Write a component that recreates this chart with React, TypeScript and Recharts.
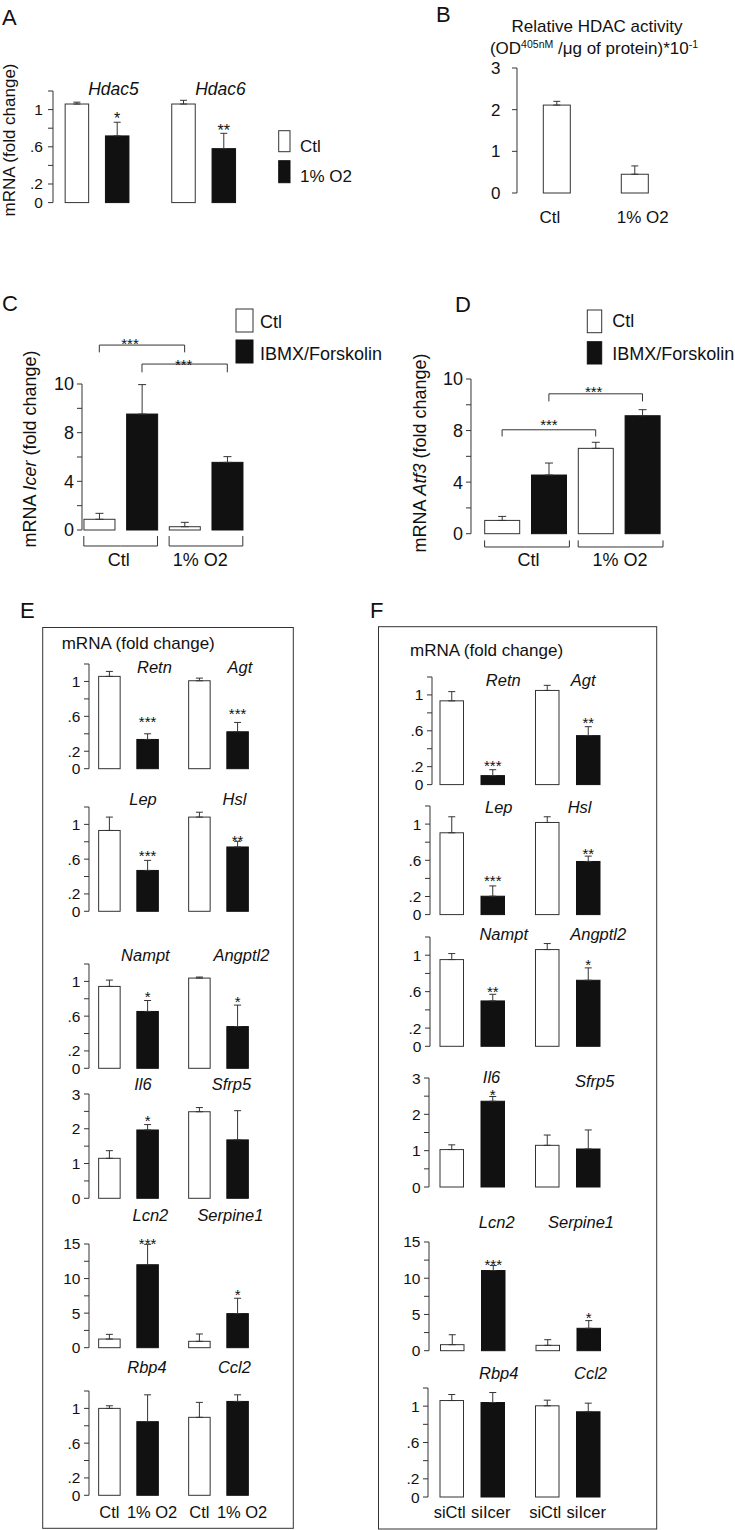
import React from 'react';
import { BarChart, Bar, XAxis, YAxis, ErrorBar, ReferenceLine } from 'recharts';

const FONT = '"Liberation Sans", Arial, Helvetica, sans-serif';
const INK = '#111';
const LINE = '#333';

// ---------------- DATA ----------------
// Panel A
const aGenes = ['Hdac5', 'Hdac6'];
const aCtl = [1.06, 1.06];
const aCtlErr = [0.02, 0.04];
const aO2 = [0.717, 0.58];
const aO2Err = [0.147, 0.165];
const aStars = ['*', '**'];
const aConditions = ['Ctl', '1% O2'];

// Panel B
const bCats = ['Ctl', '1% O2'];
const bVals = [2.11, 0.45];
const bErr = [0.09, 0.2];
const bTicks = [0, 1, 2, 3];

// Panels C, D
const groupCats = ['Ctl', '1% O2'];
const cdConditions = ['Ctl', 'IBMX/Forskolin'];
const cCtl = [0.88, 0.27];
const cCtlErr = [0.49, 0.36];
const cIbmx = [9.53, 5.56];
const cIbmxErr = [2.42, 0.47];
const dCtl = [1.03, 6.62];
const dCtlErr = [0.31, 0.47];
const dIbmx = [4.55, 9.15];
const dIbmxErr = [0.93, 0.47];
const cdTicks = [0, 2, 4, 6, 8, 10, 12];
const cdTickLabels = ['0', '', '4', '', '8', '', '10'];
const cSig = [
  { from: 0, to: 2, y: 15.2, drop: 0.6, text: '***' },
  { from: 1, to: 3, y: 13.64, drop: 0.68, text: '***' },
];
const dSig = [
  { from: 0, to: 2, y: 8.06, drop: 0.52, text: '***' },
  { from: 1, to: 3, y: 10.85, drop: 0.59, text: '***' },
];

// Panels E, F
const genePairs = [['Retn', 'Agt'], ['Lep', 'Hsl'], ['Nampt', 'Angptl2'], ['Il6', 'Sfrp5'], ['Lcn2', 'Serpine1'], ['Rbp4', 'Ccl2']];
const eConditions = ['Ctl', '1% O2'];
const eCtl = [[1.058, 1.008], [0.93, 1.084], [0.942, 1.038], [1.15, 2.49], [1.25, 0.92], [1.0, 0.897]];
const eCtlErr = [[0.057, 0.03], [0.154, 0.056], [0.073, 0.012], [0.22, 0.12], [0.68, 1.06], [0.03, 0.172]];
const eHyp = [[0.335, 0.423], [0.47, 0.74], [0.654, 0.48], [1.965, 1.68], [12.0, 4.93], [0.847, 1.08]];
const eHypErr = [[0.065, 0.107], [0.116, 0.065], [0.126, 0.247], [0.155, 0.84], [2.95, 2.22], [0.309, 0.076]];
const eStars = [['***', '***'], ['***', '**'], ['*', '*'], ['*', ''], ['***', '*'], ['', '']];
const fConditions = ['siCtl', 'siIcer'];
const fCtl = [[0.934, 1.05], [0.904, 1.018], [0.952, 1.062], [1.03, 1.147], [0.83, 0.74], [1.062, 1.004]];
const fCtlErr = [[0.103, 0.057], [0.177, 0.063], [0.066, 0.066], [0.13, 0.283], [1.37, 0.78], [0.066, 0.062]];
const fSi = [[0.1, 0.546], [0.203, 0.587], [0.498, 0.725], [2.36, 1.046], [11.06, 3.09], [1.04, 0.938]];
const fSiErr = [[0.066, 0.1], [0.114, 0.059], [0.073, 0.136], [0.13, 0.524], [0.69, 1.06], [0.11, 0.095]];
const fStars = [['***', '**'], ['***', '**'], ['**', '*'], ['*', ''], ['***', '*'], ['', '']];

const fracTicks = [0, 0.2, 0.4, 0.6, 0.8, 1, 1.2];
const fracLabels = ['0', '.2', '', '.6', '', '1', ''];
const threeTicks = [0, 0.5, 1, 1.5, 2, 2.5, 3];
const threeLabels = ['0', '', '1', '', '2', '', '3'];
const fifteenTicks = [0, 2.5, 5, 7.5, 10, 12.5, 15];
const fifteenLabels = ['0', '', '5', '', '10', '', '15'];

// ---------------- TYPES / HELPERS ----------------
type Row = { gene: string; ctl: number; ctlE: number[]; trt: number; trtE: number[]; star: string };
type GRow = { key: string; grp: string; kind: string; v: number; e: number[] };

interface PairCfg {
  axisX: number; plotTop: number; plotBottom: number;
  bandStart: number; band: number; barSize: number; barGap: number;
  yMax: number; ticks: number[]; tickLabels: string[];
  tickFont: number; tickMargin: number;
  labelOffsets: number[][]; starDy: number[];
  geneFont: number; starFont: number;
  xLabels?: string[]; xLabelDx?: number[]; xLabelDy?: number; xFont?: number;
}

const mkRows = (genes: string[], ctl: number[], ctlErr: number[], trt: number[], trtErr: number[], stars: string[]): Row[] =>
  genes.map((g, i) => ({ gene: g, ctl: ctl[i], ctlE: [0, ctlErr[i]], trt: trt[i], trtE: [0, trtErr[i]], star: stars[i] }));

const mkGroupRows = (p: string, ctl: number[], ctlErr: number[], trt: number[], trtErr: number[]): GRow[] => {
  const out: GRow[] = [];
  groupCats.forEach((g, i) => {
    out.push({ key: `${p}${i}a`, grp: g, kind: 'ctl', v: ctl[i], e: [0, ctlErr[i]] });
    out.push({ key: `${p}${i}b`, grp: g, kind: 'trt', v: trt[i], e: [0, trtErr[i]] });
  });
  return out;
};

const fmtFrom = (ticks: number[], labels: string[]) => (v: number) => {
  const i = ticks.findIndex((t) => Math.abs(t - v) < 1e-9);
  return i >= 0 ? labels[i] : '';
};

// ---------------- PAIR CHART (A, E, F) ----------------
function pairShape(kind: 'ctl' | 'trt', cfg: PairCfg) {
  return (p: any) => {
    const { x, y, width, height } = p;
    const d = p.payload || p;
    const idx = typeof p.index === 'number' ? p.index : 0;
    const v = d[kind];
    const ppu = v > 0 ? height / v : 0;
    const zeroY = y + height;
    const cx = x + width / 2;
    const els: any[] = [
      <rect key="r" x={x} y={y} width={width} height={height}
        fill={kind === 'ctl' ? '#fff' : INK} stroke={kind === 'ctl' ? LINE : INK} strokeWidth={1} />,
    ];
    if (kind === 'trt') {
      const errTop = y - d.trtE[1] * ppu;
      if (d.star) {
        els.push(
          <text key="s" x={cx} y={errTop + cfg.starDy[idx] + cfg.starFont * 0.57} textAnchor="middle"
            fontSize={cfg.starFont} fill={INK} fontFamily={FONT}>{d.star}</text>
        );
      }
      const plotTopY = zeroY - cfg.yMax * ppu;
      const gx = cx - (cfg.barSize + cfg.barGap) / 2 + cfg.labelOffsets[idx][0];
      els.push(
        <text key="g" x={gx} y={plotTopY + cfg.labelOffsets[idx][1]} textAnchor="middle" fontStyle="italic"
          fontSize={cfg.geneFont} fill={INK} fontFamily={FONT}>{d.gene}</text>
      );
    }
    if (cfg.xLabels && cfg.xLabelDx) {
      const k = kind === 'ctl' ? 0 : 1;
      els.push(
        <text key="x" x={cx + cfg.xLabelDx[k]} y={zeroY + (cfg.xLabelDy || 20)} textAnchor="middle"
          fontSize={cfg.xFont || 16} fill={INK} fontFamily={FONT}>{cfg.xLabels[k]}</text>
      );
    }
    return <g>{els}</g>;
  };
}

function PairChart({ cfg, rows }: { cfg: PairCfg; rows: Row[] }) {
  const WY = 50, MT = 45, MB = 35, MR = 45;
  const L = cfg.axisX - WY;
  const T = cfg.plotTop - MT;
  const H = cfg.plotBottom - T + MB;
  const W = cfg.bandStart + 2 * cfg.band - L + MR;
  const padL = cfg.bandStart - cfg.axisX;
  return (
    <div style={{ position: 'absolute', left: L, top: T }}>
      <BarChart width={W} height={H} data={rows} margin={{ top: MT, right: MR, bottom: MB, left: 0 }} barGap={cfg.barGap}>
        <XAxis dataKey="gene" hide padding={{ left: padL, right: 0 }} />
        <YAxis type="number" domain={[0, cfg.yMax]} ticks={cfg.ticks} interval={0}
          tickFormatter={fmtFrom(cfg.ticks, cfg.tickLabels)} width={WY} tickSize={5} tickMargin={cfg.tickMargin}
          axisLine={{ stroke: LINE }} tickLine={{ stroke: LINE }}
          tick={{ fontSize: cfg.tickFont, fill: INK, fontFamily: FONT }} />
        <Bar dataKey="ctl" barSize={cfg.barSize} isAnimationActive={false} shape={pairShape('ctl', cfg)}>
          <ErrorBar dataKey="ctlE" width={3.5} stroke={LINE} strokeWidth={1} direction="y" />
        </Bar>
        <Bar dataKey="trt" barSize={cfg.barSize} isAnimationActive={false} shape={pairShape('trt', cfg)}>
          <ErrorBar dataKey="trtE" width={3.5} stroke={LINE} strokeWidth={1} direction="y" />
        </Bar>
      </BarChart>
    </div>
  );
}

// ---------------- GROUP CHART (C, D) ----------------
interface GroupCfg {
  axisX: number; plotTop: number; plotBottom: number;
  bandStart: number; band: number; barSize: number;
  bracketDy: number; endDy: number; labelDy: number; ext: number; labelDx: number[];
  sigStyle: { dx: number; dy: number }[];
}

function GroupChart({ cfg, rows, sig }: { cfg: GroupCfg; rows: GRow[]; sig: typeof cSig }) {
  const WY = 50, MT = 70, XH = 45, MR = 20;
  const L = cfg.axisX - WY;
  const T = cfg.plotTop - MT;
  const H = cfg.plotBottom - T + XH;
  const W = cfg.bandStart + 4 * cfg.band - L + MR;
  const padL = cfg.bandStart - cfg.axisX;
  const keys = rows.map((r) => r.key);

  const tick = (p: any) => {
    const { x, y, payload } = p;
    const i = typeof payload.index === 'number' ? payload.index : p.index;
    const half = typeof payload.offset === 'number' && payload.offset > 0 ? payload.offset : cfg.band / 2;
    const bw = cfg.barSize;
    const yb = y + cfg.bracketDy, ye = y + cfg.endDy;
    if (i % 2 === 0) {
      const xl = x - bw / 2, xm = x + half;
      return (
        <g>
          <path d={`M${xl},${ye}V${yb}H${xm}`} fill="none" stroke={LINE} strokeWidth={1} />
          <text x={xm + cfg.labelDx[i / 2]} y={y + cfg.labelDy} textAnchor="middle" fontSize={18} fill={INK} fontFamily={FONT}>
            {rows[i].grp}
          </text>
        </g>
      );
    }
    const xm = x - half, xr = x + bw / 2 + cfg.ext;
    return <path d={`M${xm},${yb}H${xr}V${ye}`} fill="none" stroke={LINE} strokeWidth={1} />;
  };

  const shape = (p: any) => {
    const d = p.payload || p;
    const white = d.kind === 'ctl';
    return <rect x={p.x} y={p.y} width={p.width} height={p.height} fill={white ? '#fff' : INK} stroke={white ? LINE : INK} strokeWidth={1} />;
  };

  const starLabel = (text: string, st: { dx: number; dy: number }) => (lp: any) => {
    const vb = lp.viewBox || {};
    const cx = (vb.x || 0) + (vb.width || 0) / 2 + st.dx;
    return (
      <text x={cx} y={(vb.y || 0) + st.dy} textAnchor="middle" fontSize={15} fill={INK} fontFamily={FONT}>{text}</text>
    );
  };

  return (
    <div style={{ position: 'absolute', left: L, top: T }}>
      <BarChart width={W} height={H} data={rows} margin={{ top: MT, right: MR, bottom: 0, left: 0 }}>
        <XAxis dataKey="key" height={XH} interval={0} axisLine={false} tickLine={false} tickSize={0} tickMargin={0}
          padding={{ left: padL, right: 0 }} tick={tick} />
        <YAxis type="number" domain={[0, 12]} ticks={cdTicks} interval={0}
          tickFormatter={fmtFrom(cdTicks, cdTickLabels)} width={WY} tickSize={5} tickMargin={3}
          axisLine={{ stroke: LINE }} tickLine={{ stroke: LINE }}
          tick={{ fontSize: 18, fill: INK, fontFamily: FONT }} />
        <Bar dataKey="v" barSize={cfg.barSize} isAnimationActive={false} shape={shape}>
          <ErrorBar dataKey="e" width={4} stroke={LINE} strokeWidth={1} direction="y" />
        </Bar>
        {sig.map((s, k) => (
          <ReferenceLine key={`h${k}`} segment={[{ x: keys[s.from], y: s.y }, { x: keys[s.to], y: s.y }]}
            stroke={LINE} strokeWidth={1} ifOverflow="visible" label={starLabel(s.text, cfg.sigStyle[k])} />
        ))}
        {sig.map((s, k) => (
          <ReferenceLine key={`l${k}`} segment={[{ x: keys[s.from], y: s.y }, { x: keys[s.from], y: s.y - s.drop }]}
            stroke={LINE} strokeWidth={1} ifOverflow="visible" />
        ))}
        {sig.map((s, k) => (
          <ReferenceLine key={`r${k}`} segment={[{ x: keys[s.to], y: s.y }, { x: keys[s.to], y: s.y - s.drop }]}
            stroke={LINE} strokeWidth={1} ifOverflow="visible" />
        ))}
      </BarChart>
    </div>
  );
}

// ---------------- CHART B ----------------
const bRows = bCats.map((c, i) => ({ cat: c, v: bVals[i], e: [0, bErr[i]] }));
const bTickDx = [-6.5, 8.5];

function ChartB() {
  const axisX = 516.7, plotTop = 68.3, plotBottom = 193.3, bandStart = 517, band = 78, barSize = 27;
  const WY = 60, MT = 10, XH = 40, MR = 20;
  const L = axisX - WY;
  const T = plotTop - MT;
  const H = plotBottom - T + XH;
  const W = bandStart + 2 * band - L + MR;
  const tick = (p: any) => (
    <text x={p.x + bTickDx[p.index] } y={p.y + 30} textAnchor="middle" fontSize={17} fill={INK} fontFamily={FONT}>
      {p.payload.value}
    </text>
  );
  const shape = (p: any) => (
    <rect x={p.x} y={p.y} width={p.width} height={p.height} fill="#fff" stroke={LINE} strokeWidth={1} />
  );
  return (
    <div style={{ position: 'absolute', left: L, top: T }}>
      <BarChart width={W} height={H} data={bRows} margin={{ top: MT, right: MR, bottom: 0, left: 0 }}>
        <XAxis dataKey="cat" height={XH} interval={0} axisLine={false} tickLine={false} tickSize={0} tickMargin={0}
          padding={{ left: bandStart - axisX, right: 0 }} tick={tick} />
        <YAxis type="number" domain={[0, 3]} ticks={bTicks} interval={0} width={WY} tickSize={5} tickMargin={11.5}
          axisLine={{ stroke: LINE }} tickLine={{ stroke: LINE }}
          tick={{ fontSize: 17, fill: INK, fontFamily: FONT }} />
        <Bar dataKey="v" barSize={barSize} isAnimationActive={false} shape={shape}>
          <ErrorBar dataKey="e" width={3.5} stroke={LINE} strokeWidth={1} direction="y" />
        </Bar>
      </BarChart>
    </div>
  );
}

// ---------------- CONFIGS ----------------
const aRows = mkRows(aGenes, aCtl, aCtlErr, aO2, aO2Err, aStars);
const aCfg: PairCfg = {
  axisX: 53.3, plotTop: 90.7, plotBottom: 202.3, bandStart: 44.45, band: 106.6, barSize: 23.5, barGap: 16.8,
  yMax: 1.2, ticks: fracTicks, tickLabels: fracLabels, tickFont: 15.5, tickMargin: 5,
  labelOffsets: [[16.4, 3.6], [16.8, 3.6]], starDy: [-7, -6.3], geneFont: 17.5, starFont: 16,
};

const cRows = mkGroupRows('c', cCtl, cCtlErr, cIbmx, cIbmxErr);
const dRows = mkGroupRows('d', dCtl, dCtlErr, dIbmx, dIbmxErr);
const cCfg: GroupCfg = {
  axisX: 81.7, plotTop: 384, plotBottom: 530, bandStart: 77.67, band: 42.67, barSize: 31,
  bracketDy: 16, endDy: 6, labelDy: 36, ext: 0, labelDx: [-2, -5.7],
  sigStyle: [{ dx: -12, dy: 3.5 }, { dx: -1, dy: 6 }],
};
const dCfg: GroupCfg = {
  axisX: 470.7, plotTop: 379.3, plotBottom: 534, bandStart: 478.4, band: 46.8, barSize: 35,
  bracketDy: 13.3, endDy: 6.7, labelDy: 32.5, ext: 3, labelDx: [3, 1],
  sigStyle: [{ dx: 0, dy: 0 }, { dx: -2, dy: 3.5 }],
};

const scaleFor: Record<string, [number[], string[], number]> = {
  frac: [fracTicks, fracLabels, 1.2],
  three: [threeTicks, threeLabels, 3],
  fifteen: [fifteenTicks, fifteenLabels, 15],
};
const rowScales = ['frac', 'frac', 'frac', 'three', 'fifteen', 'frac'];

const ePlots = [[664.3, 769], [806.7, 911], [964, 1068.3], [1094, 1198.3], [1244, 1347.7], [1390.7, 1495]];
const eLabelOff = [
  [[25.9, 9], [21.5, 9]], [[14.5, -1.7], [15.9, -1.7]], [[16.9, -3], [22.9, -3]],
  [[14.5, -4], [12.9, -4]], [[21.9, -23], [11.9, -23]], [[18.5, -18.4], [15.9, -18.4]],
];
const eStarDy = [[-15, -12.3], [-7.7, -4.3], [-7.4, -6.3], [-7.4, 0], [-4.3, -6.6], [0, 0]];

const fAxis = [432, 430, 430, 429, 428.5, 428];
const fPlots = [[676.7, 784.3], [805.7, 914.3], [936.7, 1046], [1078.3, 1187.3], [1242.3, 1351], [1388.3, 1497.3]];
const fLabelOff = [
  [[31, 9], [15.5, 9]], [[26.5, 7], [11.8, 7]], [[31.5, 3.3], [30.5, 3.3]],
  [[19.3, 5], [27, 9.4]], [[24, -14], [12.8, -14]], [[26.5, -9], [22.8, -9]],
];
const fStarDy = [[-7.6, -7], [-8.4, -6], [-5.7, -6.7], [-5, 0], [-4.3, -6], [0, 0]];

const eRows = genePairs.map((g, i) => mkRows(g, eCtl[i], eCtlErr[i], eHyp[i], eHypErr[i], eStars[i]));
const fRows = genePairs.map((g, i) => mkRows(g, fCtl[i], fCtlErr[i], fSi[i], fSiErr[i], fStars[i]));

const eCfgs: PairCfg[] = ePlots.map((pl, i) => {
  const [ticks, labels, yMax] = scaleFor[rowScales[i]];
  return {
    axisX: 88.5, plotTop: pl[0], plotBottom: pl[1], bandStart: 83.15, band: 90, barSize: 21.5, barGap: 16.7,
    yMax, ticks, tickLabels: labels, tickFont: 15.5, tickMargin: 3.5,
    labelOffsets: eLabelOff[i], starDy: eStarDy[i], geneFont: 16.5, starFont: 15,
    ...(i === 5 ? { xLabels: eConditions, xLabelDx: [0, 4.5], xLabelDy: 22.5, xFont: 16.5 } : {}),
  };
});
const fCfgs: PairCfg[] = fPlots.map((pl, i) => {
  const [ticks, labels, yMax] = scaleFor[rowScales[i]];
  return {
    axisX: fAxis[i], plotTop: pl[0], plotBottom: pl[1], bandStart: 424, band: 95.5, barSize: 23.5, barGap: 17.5,
    yMax, ticks, tickLabels: labels, tickFont: 15.5, tickMargin: 3.5,
    labelOffsets: fLabelOff[i], starDy: fStarDy[i], geneFont: 16.5, starFont: 15,
    ...(i === 5 ? { xLabels: fConditions, xLabelDx: [-2, -2], xLabelDy: 21, xFont: 16.5 } : {}),
  };
});

// ---------------- OVERLAY (letters, axis titles, legends, boxes) ----------------
function Overlay() {
  const t = { fill: INK, fontFamily: FONT };
  return (
    <svg width={735} height={1530} style={{ position: 'absolute', left: 0, top: 0, pointerEvents: 'none' }}>
      {/* Panel letters */}
      <text x={2} y={25} fontSize={22} {...t}>A</text>
      <text x={436} y={22} fontSize={22} {...t}>B</text>
      <text x={2} y={311} fontSize={22} {...t}>C</text>
      <text x={455} y={312} fontSize={22} {...t}>D</text>
      <text x={20} y={618} fontSize={22} {...t}>E</text>
      <text x={370} y={618} fontSize={22} {...t}>F</text>

      {/* A */}
      <text transform="translate(15,140) rotate(-90)" textAnchor="middle" fontSize={17} {...t}>mRNA (fold change)</text>
      <rect x={278.7} y={130.7} width={11.3} height={21} fill="#fff" stroke={LINE} />
      <rect x={278.7} y={160.7} width={11.3} height={22} fill={INK} stroke={INK} />
      <text x={300} y={151.5} fontSize={17} {...t}>{aConditions[0]}</text>
      <text x={300} y={181.5} fontSize={17} {...t}>{aConditions[1]}</text>

      {/* B */}
      <text x={597} y={32.3} textAnchor="middle" fontSize={17} {...t}>Relative HDAC activity</text>
      <text x={594} y={53.5} textAnchor="middle" fontSize={17} {...t}>
        (OD<tspan fontSize={10.5} dy={-5.5}>405nM</tspan>
        <tspan dy={5.5}> /μg of protein)*10</tspan>
        <tspan fontSize={10.5} dy={-5.5}>-1</tspan>
      </text>

      {/* C */}
      <text transform="translate(36,449) rotate(-90)" textAnchor="middle" fontSize={18} {...t}>
        mRNA <tspan fontStyle="italic">Icer</tspan> (fold change)
      </text>
      <rect x={236} y={309} width={17} height={23} fill="#fff" stroke={LINE} />
      <rect x={236} y={340} width={17} height={23} fill={INK} stroke={INK} />
      <text x={260} y={327.5} fontSize={18} {...t}>{cdConditions[0]}</text>
      <text x={260} y={360} fontSize={18} {...t}>{cdConditions[1]}</text>

      {/* D */}
      <text transform="translate(426,453) rotate(-90)" textAnchor="middle" fontSize={18} {...t}>
        mRNA <tspan fontStyle="italic">Atf3</tspan> (fold change)
      </text>
      <rect x={587.3} y={310} width={14.4} height={22.7} fill="#fff" stroke={LINE} />
      <rect x={587.3} y={341.7} width={14.4} height={22.3} fill={INK} stroke={INK} />
      <text x={612.3} y={327.3} fontSize={18} {...t}>{cdConditions[0]}</text>
      <text x={612.3} y={360} fontSize={18} {...t}>{cdConditions[1]}</text>

      {/* E */}
      <rect x={42.7} y={627.5} width={250.6} height={900.8} fill="none" stroke={LINE} strokeWidth={1} />
      <text x={61.7} y={649} fontSize={17} {...t}>mRNA (fold change)</text>

      {/* F */}
      <rect x={378.5} y={626.7} width={278.2} height={902.3} fill="none" stroke={LINE} strokeWidth={1} />
      <text x={410} y={656} fontSize={17} {...t}>mRNA (fold change)</text>
    </svg>
  );
}

export default function App() {
  return (
    <div style={{ position: 'absolute', left: 0, top: 0, width: 735, height: 1530, background: '#fff', overflow: 'hidden', fontFamily: FONT }}>
      <PairChart cfg={aCfg} rows={aRows} />
      <ChartB />
      <GroupChart cfg={cCfg} rows={cRows} sig={cSig} />
      <GroupChart cfg={dCfg} rows={dRows} sig={dSig} />
      {eRows.map((rows, i) => <PairChart key={`e${i}`} cfg={eCfgs[i]} rows={rows} />)}
      {fRows.map((rows, i) => <PairChart key={`f${i}`} cfg={fCfgs[i]} rows={rows} />)}
      <Overlay />
    </div>
  );
}
